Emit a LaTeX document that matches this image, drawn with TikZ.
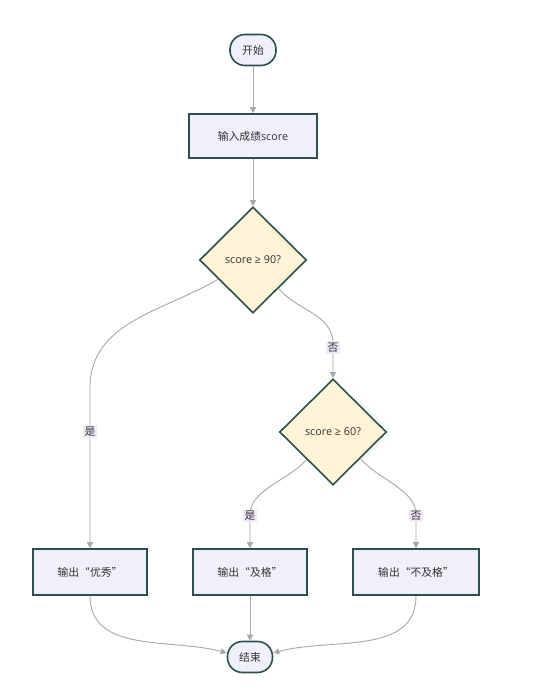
\documentclass[tikz,border=0pt]{standalone}
\usepackage{fontspec}
\setmainfont{Open Sans}
\newfontfamily\cjk{Noto Sans CJK SC}
\usetikzlibrary{shapes.geometric,arrows.meta}

\definecolor{nodeline}{HTML}{2F4F4F}
\definecolor{boxfill}{HTML}{F0F0FA}
\definecolor{askfill}{HTML}{FFF4D8}
\definecolor{linkgray}{HTML}{A8A8A8}
\definecolor{tagfill}{HTML}{EEE8F8}
\definecolor{inkgray}{HTML}{333333}

\tikzset{
  link/.style={draw=linkgray, line width=0.9pt, -{Triangle[width=6pt,length=6pt]}}
}

\begin{document}
\begin{tikzpicture}[x=1pt,y=1pt]

      \useasboundingbox[fill=white] (0,0) rectangle (548,698);

      \begin{scope}[every node/.style={draw=nodeline, line width=1.6pt, text=inkgray,
          font=\fontsize{10.8}{13}\selectfont}]
        \node[fill=boxfill, rounded corners=15pt, minimum width=46pt, minimum height=31pt] (start) at (253,648) {\cjk 开始};
        \node[fill=boxfill, minimum width=128pt, minimum height=44pt] (input) at (253,562) {{\cjk 输入成绩}score};
        \node[fill=askfill, diamond, inner sep=0pt, minimum width=107pt, minimum height=106pt] (d1) at (253,438) {score ≥ 90?};
        \node[fill=askfill, diamond, inner sep=0pt, minimum width=107pt, minimum height=106pt] (d2) at (333,266) {score ≥ 60?};
        \node[fill=boxfill, minimum width=114pt, minimum height=46pt] (good) at (90,126) {\cjk 输出“优秀”};
        \node[fill=boxfill, minimum width=114pt, minimum height=46pt] (pass) at (250,126) {\cjk 输出“及格”};
        \node[fill=boxfill, minimum width=126pt, minimum height=46pt] (fail) at (416,126) {\cjk 输出“不及格”};
        \node[fill=boxfill, rounded corners=15pt, minimum width=45pt, minimum height=31pt] (stop) at (250,41) {\cjk 结束};
      \end{scope}

      \begin{scope}[every node/.style={fill=tagfill, text=inkgray, inner sep=1.5pt,
          font=\cjk\fontsize{10.8}{13}\selectfont}]

        \begin{scope}[every edge/.style={link}]
          \path (start) edge (input);
          \path (input) edge (d1);
          \draw[link] (d1.209) to[out=210,in=90] ([yshift=160pt]good.north) -- node[pos=0.27] {是} (good.north);
          \draw[link] (d1.312) to[out=-50,in=90] ([yshift=34pt]d2.north) -- node[pos=0.1] {否} (d2.north);
          \draw[link] (d2.226) to[out=-128,in=90,looseness=0.8] ([yshift=34pt]pass.north) -- node[pos=0.05] {是} (pass.north);
          \draw[link] (d2.316) to[out=-52,in=90,looseness=0.8] ([yshift=34pt]fail.north) -- node[pos=0.05] {否} (fail.north);
          \path (good.south) edge[out=-90,in=165] (stop.170);
          \path (pass) edge (stop);
          \path (fail.south) edge[out=-90,in=15] (stop.10);
        \end{scope}
      \end{scope}

    \end{tikzpicture}
\end{document}
